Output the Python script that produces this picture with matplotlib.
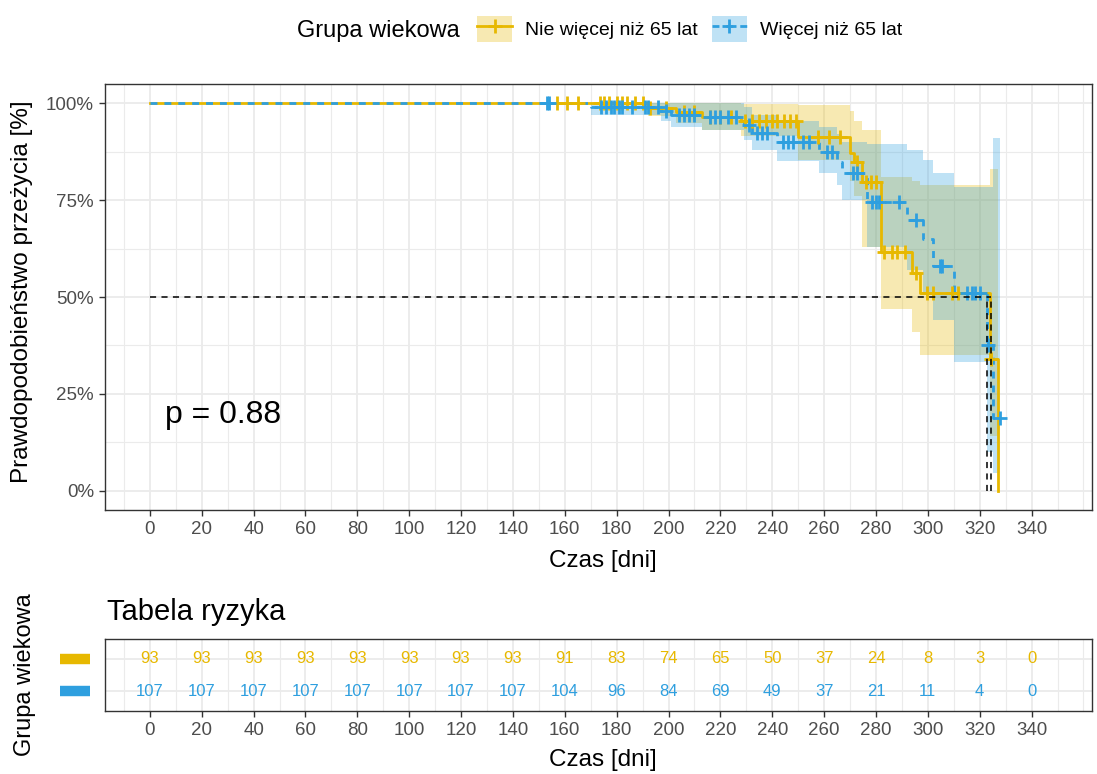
import numpy as np
import matplotlib
matplotlib.use("Agg")
import matplotlib.pyplot as plt
from matplotlib.patches import Patch
from matplotlib.lines import Line2D
from matplotlib.ticker import MultipleLocator, FixedLocator, FuncFormatter

plt.rcParams['font.family'] = ['Liberation Sans', 'DejaVu Sans']

YELLOW = '#E7B800'
BLUE = '#2E9FDF'

groups = ['Nie więcej niż 65 lat', 'Więcej niż 65 lat']

# grupa 1: nie więcej niż 65 lat
y_time = [0, 192, 203, 213, 228, 250, 270, 271.5, 274.5, 282, 294, 297, 324, 327]
y_surv = [1.0, 0.989, 0.978, 0.966, 0.955, 0.912, 0.871, 0.848, 0.796, 0.616, 0.562, 0.510, 0.340, 0.0]
y_low = [1.0, 0.968, 0.95, 0.93, 0.915, 0.855, 0.80, 0.76, 0.63, 0.47, 0.41, 0.35, 0.14, 0.14]
y_up = [1.0, 1.0, 1.0, 1.0, 0.998, 0.995, 0.98, 0.955, 0.93, 0.81, 0.80, 0.79, 0.83, 0.83]
y_cens = [157, 161, 165, 173.5, 175, 177, 180, 182, 184, 187, 190, 193, 199, 206, 210,
          216, 220, 224, 229.5, 232, 235, 237.5, 240, 242, 244.5, 247, 249, 257.5, 262,
          266, 272.5, 276, 278, 280, 283, 286, 288, 291, 295.5, 299.5, 302, 309.5,
          311.5, 324.5]
y_end = 327

# grupa 2: więcej niż 65 lat
b_time = [0, 170, 197, 201, 213, 229, 232, 242, 258, 265, 267, 276.5, 292, 298, 302, 310, 322.7, 325]
b_surv = [1.0, 0.99, 0.98, 0.97, 0.964, 0.943, 0.923, 0.899, 0.874, 0.848, 0.82, 0.745,
          0.70, 0.65, 0.58, 0.51, 0.376, 0.188]
b_low = [1.0, 0.97, 0.955, 0.94, 0.93, 0.905, 0.88, 0.85, 0.82, 0.79, 0.75, 0.63,
         0.57, 0.51, 0.44, 0.333, 0.10, 0.045]
b_up = [1.0, 1.0, 1.0, 1.0, 1.0, 0.99, 0.97, 0.955, 0.94, 0.92, 0.90, 0.895,
        0.88, 0.853, 0.82, 0.784, 0.784, 0.91]
b_cens = [153, 154, 174, 176, 178, 179, 181, 182, 186, 191, 192, 196, 199, 204, 206,
          208, 210, 216, 218, 220, 223, 226, 231, 234, 236, 238, 244, 246, 248, 252,
          254, 261, 263, 271, 272.5, 278.5, 280, 281, 289, 295.5, 304.5, 305.5, 315,
          317, 318, 320, 323.3, 327.7]
b_end = 327.7

medians = [324.2, 322.7]
p_text = 'p = 0.88'

risk_times = list(range(0, 341, 20))
risk_y = [93, 93, 93, 93, 93, 93, 93, 93, 91, 83, 74, 65, 50, 37, 24, 8, 3, 0]
risk_b = [107, 107, 107, 107, 107, 107, 107, 107, 104, 96, 84, 69, 49, 37, 21, 11, 4, 0]

W, H = 1097, 774
fig = plt.figure(figsize=(W / 100, H / 100), dpi=100)
ax = fig.add_axes([105 / W, 264 / H, 987 / W, 426 / H])
rt = fig.add_axes([105 / W, 63 / H, 987 / W, 72 / H])


def style(a):
    a.set_facecolor('white')
    for s in a.spines.values():
        s.set_color('#333333')
        s.set_linewidth(1.0)
    a.tick_params(which='major', colors='#333333', labelcolor='#4D4D4D',
                  labelsize=13.5, length=4.5, width=1.0, pad=3.5)
    a.tick_params(which='minor', length=0)
    a.xaxis.set_major_locator(FixedLocator(risk_times))
    a.xaxis.set_minor_locator(MultipleLocator(10))
    a.grid(which='major', color='#EBEBEB', lw=1.3)
    a.grid(which='minor', color='#EBEBEB', lw=0.8)
    a.set_axisbelow(True)
    a.set_xlim(-17.3, 363.3)


style(ax)
style(rt)

# wykres przeżycia
def surv_at(times, surv, t):
    i = np.searchsorted(times, t, side='right') - 1
    return np.asarray(surv)[i]


curves = [
    (y_time, y_surv, y_low, y_up, y_cens, y_end, YELLOW, '-'),
    (b_time, b_surv, b_low, b_up, b_cens, b_end, BLUE, (0, (2.5, 2.5))),
]

for t, s, lo, hi, c, end, col, ls in curves:
    tt = list(t) if s[-1] == 0 else list(t) + [end]
    ll = list(lo[:len(tt) - 1]) + [lo[len(tt) - 2]]
    uu = list(hi[:len(tt) - 1]) + [hi[len(tt) - 2]]
    ax.fill_between(tt, ll, uu, step='post', color=col, alpha=0.3, lw=0, zorder=1)

for t, s, lo, hi, c, end, col, ls in curves:
    tt = list(t) if s[-1] == 0 else list(t) + [end]
    ss = list(s) if s[-1] == 0 else list(s) + [s[-1]]
    ax.step(tt, ss, where='post', color=col, lw=2.0, ls=ls, zorder=3)

for t, s, lo, hi, c, end, col, ls in curves:
    cy = [surv_at(t, s, x) for x in c]
    ax.plot(c, cy, ls='none', marker='+', ms=10, mew=2.0, color=col, zorder=4)

# mediana
ax.plot([0, max(medians)], [0.5, 0.5], color='black', lw=1.1, ls=(0, (4, 3.5)), zorder=5)
for m in medians:
    ax.plot([m, m], [0, 0.5], color='black', lw=1.1, ls=(0, (4, 3.5)), zorder=5)

ax.text(5.8, 0.196, p_text, fontsize=23, ha='left', va='center', color='black')

ax.set_ylim(-0.05, 1.05)
ax.yaxis.set_major_locator(MultipleLocator(0.25))
ax.yaxis.set_minor_locator(MultipleLocator(0.125))
ax.yaxis.set_major_formatter(FuncFormatter(lambda v, p: f'{v * 100:.0f}%'))

fig.text(22 / W, 1 - 292 / H, 'Prawdopodobieństwo przeżycia [%]', rotation=90,
         ha='center', va='center', fontsize=17.5)
fig.text(603 / W, 1 - 561 / H, 'Czas [dni]', ha='center', va='center', fontsize=17.5)

# legenda
fig.text(297 / W, 1 - 31 / H, 'Grupa wiekowa', ha='left', va='center', fontsize=17)
handles = [
    (Patch(facecolor=YELLOW, alpha=0.3, edgecolor='none'),
     Line2D([], [], color=YELLOW, lw=2.0, marker='+', ms=10, mew=2.0)),
    (Patch(facecolor=BLUE, alpha=0.3, edgecolor='none'),
     Line2D([], [], color=BLUE, lw=2.0, ls=(0, (2.5, 2.5)), marker='+', ms=10, mew=2.0)),
]
fig.legend(handles=handles, labels=groups, loc='center left',
           bbox_to_anchor=(477 / W, 1 - 29 / H), ncol=2, frameon=False, fontsize=14,
           handlelength=1.8, handleheight=1.7, handletextpad=0.65, columnspacing=0.75,
           borderpad=0, borderaxespad=0)

# tabela ryzyka
for x, v in zip(risk_times, risk_y):
    rt.text(x, 2, str(v), color=YELLOW, fontsize=12, ha='center', va='center')
for x, v in zip(risk_times, risk_b):
    rt.text(x, 1, str(v), color=BLUE, fontsize=12, ha='center', va='center')
rt.set_ylim(0.4, 2.6)
rt.set_yticks([1, 2])
rt.set_yticklabels([])
rt.tick_params(axis='y', length=0)
for yy, col in [(2, YELLOW), (1, BLUE)]:
    rt.plot([-0.0456, -0.0152], [yy, yy], color=col, lw=7.5, solid_capstyle='butt',
            transform=rt.get_yaxis_transform(), clip_on=False)

fig.text(107 / W, 1 - 612 / H, 'Tabela ryzyka', ha='left', va='center', fontsize=21)
fig.text(25 / W, 1 - 675 / H, 'Grupa wiekowa', rotation=90, ha='center', va='center',
         fontsize=17)
fig.text(603 / W, 1 - 760 / H, 'Czas [dni]', ha='center', va='center', fontsize=17.5)

fig.savefig('out.png', dpi=100)
